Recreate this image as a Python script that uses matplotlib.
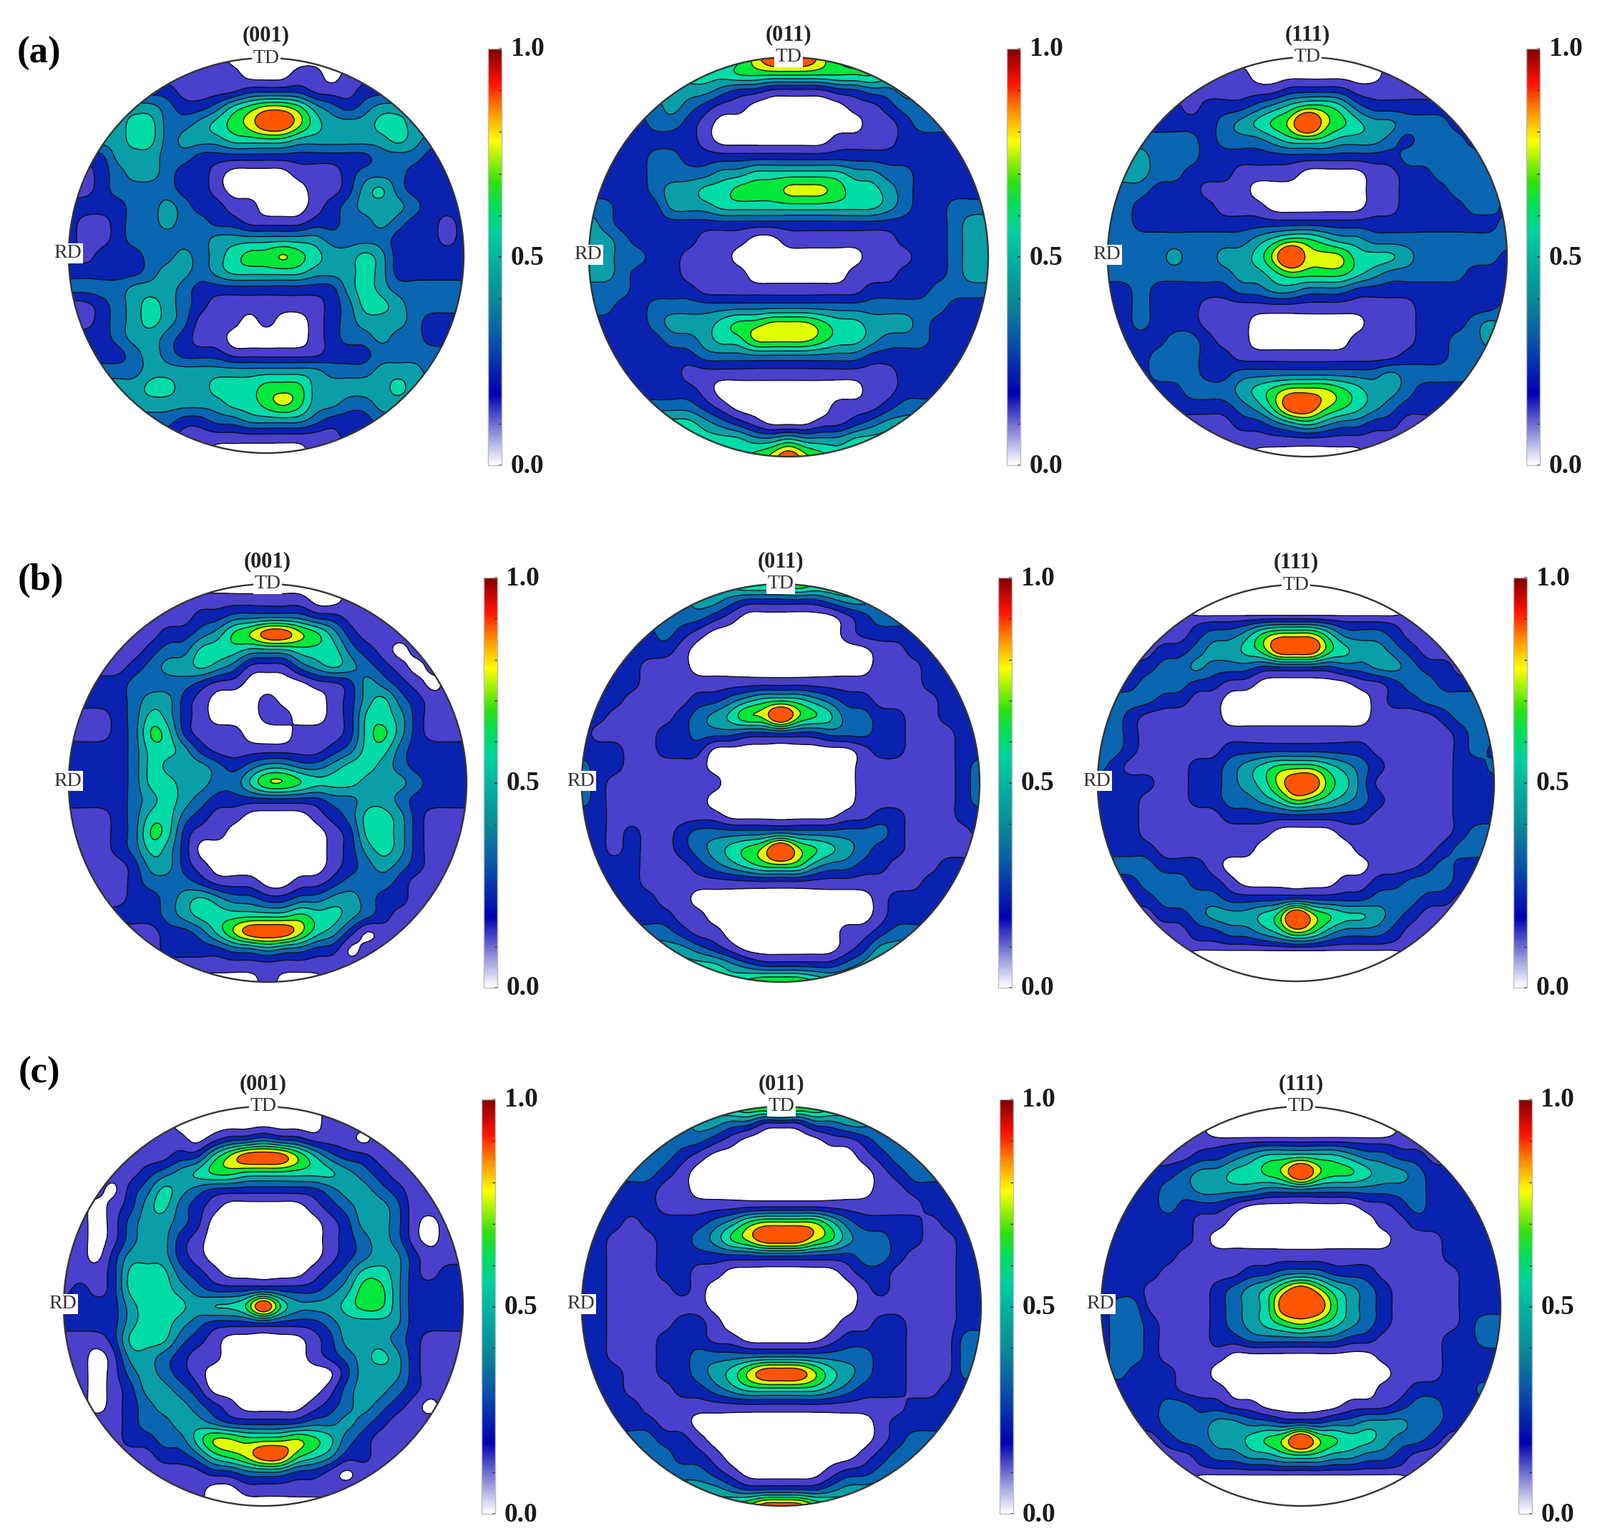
import numpy as np
import matplotlib
matplotlib.use("Agg")
import matplotlib.pyplot as plt
from matplotlib.colors import LinearSegmentedColormap, Normalize
from matplotlib.cm import ScalarMappable
from matplotlib.patches import Circle
from matplotlib.ticker import MultipleLocator
from matplotlib.transforms import ScaledTranslation

W, H = 2236, 2146
plt.rcParams['font.family'] = ['Liberation Serif', 'DejaVu Serif']

# Each figure: 25 rows x 25 columns across the disc, one digit per cell = contour band
# (z = well below the lowest band, used where a white area reaches far past a grid line)
A_001 = ["1111111111000000001111111","1111111111100011011222222","2222222111122221112222222","4444443223567764323444444","4444553345678875444554444","4444553444555544444454333","2224443322222222222333222","1123443221000011123332222","1123333221000001124532222","2222334322110001234443222","2112334332211112233432212","2112333334444444333322212","2122233434566765445422222","2222234434555554445422222","3333444322222222245433333","1123454321111111235543333","1123454311101001234443222","2223443211000001233433222","2222343222111111222333333","3333344444444444333444333","4444455445556664444454444","4444444444556764433444444","3333333223344443222333333","2222222111111111122222222","1111111110000001111111111"]
A_011 = ["4444444445788875444444444","5555555556666666665555555","4444444432211112233444444","3333343211000000112333333","2222332100000000011233333","2222222100000001111222222","2222332222222222222222222","2222333344555555443322222","2222344556667776554322222","3322244455555555554322333","4322222222222222222222344","4432222111001111111222344","4433221110000000011122344","4432221111000000111222344","3332222111111111122223333","3322333333333333333333222","2222344456677765544432222","2222233455777765543332222","2222222333333333322222222","2222221111111111111222222","2222222100000000011222222","3333333210000001112333333","5555555432100011234444444","5555555555445444555555555","5555555555678765555555555"]
A_111 = ["1111111100000000011111111","1111111110000000011111111","1111111111122221111111111","2222212223456653222222222","2222222345679765443332222","3333332333455544432333222","4443332222222222223333333","4443322211110000112233333","3332221110000000112223333","3322222111000000112222332","3322222222222222222222223","3333333334566544333333333","3333433445797775554333332","3333333344566665433333222","2232222233443332222222222","2232221111111111111222223","2232221110000000111222343","2222332110000001111223343","2223332211111111112223333","2223332233333333343333333","2222233345677765443222222","2222222234688765432222222","1111111122345433221111111","1111111111111111111111111","1111111110000000111111111"]
B_001 = ["1111111100000000011111111","1111111111111110011111111","1111111122333332211111111","1111112234678876421111111","1111123355544455532101111","1111234454311134543210111","2222333321100001124321011","2222344210001000124532111","1112354210001100125542111","1112365211100011125642111","2222355421111111235532222","2222354443234433455432222","2222355443357765554443222","2222345432222222334432222","1112355321100001235542111","1112365211000000125542111","1112354200000000124542111","1111244210000000123432111","1111233321110011233321111","1111223454332233443221111","2222223455555565543211111","1111112235788875420111111","1111112222334332201111111","1111111111111111111111111","1111111100001000111111111"]
B_011 = ["4444444445666766654444444","3333333443222223443333333","3333333321000000123333333","2222232100000000122222222","2222221000000000001122222","2222111000000000001112222","2222111111111111111112222","2221111223455543221111222","2211112345779765332211222","2111122333222223332211122","2221122200000000012211122","3221111100000000011111123","3211111110000000011111123","3211111100000000011111123","2211111110000000112211122","2212112333333333333211112","2212112345679765432211111","2222111234566643322111222","2222111111111111111112222","2222211000000000001222222","2222221100000000001222222","3333332110000000112333333","4444444321000000124444444","5555555554322222345555555","5555555555677765555555555"]
B_111 = ["1111110000000000000111111","111111zzzzzzzzzzzzz111111","1111111111111111111111111","1111112334677753332111111","1111223445688865443211111","2222334333222223344322111","2223332211000000112332222","3333221100000000012233333","3321111100000000011112333","3321111111111111111111233","3321111122222222211111232","3211112234566654321111223","2222112234578865311111222","2221112233457654321111222","2221111122222222211111222","2221111111100001111111233","2222111111000000111112333","3333222100000000011123222","2223332210000001122333222","2222333322222222233322111","1111223444569765543211111","1111112233457643332111111","1111111111111111111111111","111111zzzzzzzzzzzzz111111","1111110000000000000111111"]
C_001 = ["1111111000000000111111111","1111111000000000111111111","1111111101223221110111111","1111111225788875322111111","1111123456655555543211111","1110235432222222344321111","1101245321000001234431111","1101344320000000124431011","1101344210000000123431011","1102444210000000123442111","1112555321000001235542122","1212555432222222346642222","2222455545569644456642222","2222455432222222344442222","1112555321000001244432111","1101443211000001234542111","1101343210000000024442111","1101244320000000134432111","1101234432100001234321011","1111233443222223343211111","1111223357766676532111111","1111112235678865422111111","1111111112233322101111111","1111111110011111111111111","1111111110000000000111111"]
C_011 = ["4444444456778776544444444","3333333443311133443333333","3333333321000001123333333","3333332100000000012333333","3333321000000000001233333","2222211000000000001122222","2222211111111111111112222","2221222234677775322221222","2211122346788876433221122","2211122222222222233211122","2211122110000000122111122","2211112100000000012111122","2211111100000000011111122","2211112210000000112211122","2211122211000001222211133","2211122333333333332211133","2221122345788875432211132","2221112234555554322211222","2222111111111111111122222","2222211000000000001222222","3333322100000000001233333","3333332210000000012333333","3333333321000001223333333","4444444443222223444444444","4444444456788876544444444"]
C_111 = ["1111111000000000001111111","1111111zzzzzzzzzzz1111111","1111111111111111111111111","1111112234555554332211111","2222234455679766544322111","2222334444333333333322222","2222322210000000112322222","2222221100000000011222222","2222221000000000001112222","2222211111111111111112222","2222111112233322211111222","2221111234578754321111222","2331111234588864321111222","2332111234567654321111233","2332111223333332211112233","2332111100000000011112222","2322211000000000001112222","2222211100000000011222232","2222332211000001112332222","2222333443322233444332222","1111233445679765543321111","1111112334455544332111111","1111111111111111111111111","111111zzzzzzzzzzzzz111111","1111110000000000000111111"]

PANEL_ROWS = [[A_001, A_011, A_111], [B_001, B_011, B_111], [C_001, C_011, C_111]]
POLES = ["(001)", "(011)", "(111)"]
ROW_LABELS = ["(a)", "(b)", "(c)"]
BAR_TICKS = [0.0, 0.5, 1.0]
BAND_COLORS = ["#ffffff", "#4a40cc", "#0a22b0", "#0a66b0", "#0a9fa8",
               "#00dca8", "#00e83c", "#e0ff00", "#ff5500"]
BAR_STOPS = [(0.0, "#ffffff"), (0.1, "#6a6ad0"), (0.17, "#0000b0"), (0.3, "#0a55a8"),
             (0.4, "#0a8c96"), (0.5, "#00b4a0"), (0.56, "#00d0a0"), (0.62, "#00dd60"),
             (0.68, "#30e010"), (0.78, "#ffff00"), (0.85, "#ff9000"), (0.92, "#ff1000"),
             (1.0, "#800000")]
BAR_CMAP = LinearSegmentedColormap.from_list("pf", BAR_STOPS)
CELL_VALUE = {"z": -2, "8": 9, "9": 10.5}

# geometry in pixels
CX = [[372, 1102, 1827], [374, 1091, 1811], [368, 1092, 1818]]
CY = [[357, 359, 359], [1094, 1094, 1094], [1825, 1825, 1825]]
RAD = [[276, 279, 279], [278, 278, 277], [279, 279, 279]]
BAR_X = [[682, 1407, 2133], [676, 1395, 2115], [673, 1397, 2122]]
BAR_Y = [(68, 650), (807, 1380), (1536, 2115)]
LABEL_XY = [(54, 75), (57, 811), (55, 1500)]


def cubic_axis(z, f):
    m = z.shape[0]
    t = np.linspace(0, m - 1, (m - 1) * f + 1)
    i = np.clip(t.astype(int), 0, m - 2)
    u = (t - i)[:, None]
    p0, p1 = z[np.clip(i - 1, 0, m - 1)], z[i]
    p2, p3 = z[i + 1], z[np.clip(i + 2, 0, m - 1)]
    return p1 + 0.5 * u * (p2 - p0 + u * (2 * p0 - 5 * p1 + 4 * p2 - p3 + u * (3 * (p1 - p2) + p3 - p0)))


def soften_axis(z, sigma):
    k = np.exp(-0.5 * (np.arange(-9, 10) / sigma) ** 2)
    k /= k.sum()
    pad = np.pad(z, ((9, 9), (0, 0)), mode="edge")
    return np.apply_along_axis(lambda v: np.convolve(v, k, mode="valid"), 0, pad)


def refine(rows, f=10, sigma=3.0):
    z = np.array([[CELL_VALUE.get(c, int(c) if c.isdigit() else 0) for c in r.ljust(25, r[-1])[:25]]
                  for r in rows], float)
    z = cubic_axis(cubic_axis(z, f).T, f).T
    return soften_axis(soften_axis(z, sigma).T, sigma).T


def fx(x):
    return x / W


def fy(y):
    return 1 - y / H


fig = plt.figure(figsize=(W / 100, H / 100), dpi=100, facecolor="white")
levels = [-99] + [k + 0.5 for k in range(8)] + [99]
lift = ScaledTranslation(0, 3 / 100, fig.dpi_scale_trans)

for r in range(3):
    fig.text(fx(LABEL_XY[r][0]), fy(LABEL_XY[r][1]), ROW_LABELS[r], fontsize=38,
             fontweight="bold", ha="center", va="center")
    for c in range(3):
        cx, cy, rad = CX[r][c], CY[r][c], RAD[r][c]
        ax = fig.add_axes([fx(cx - rad), fy(cy + rad), 2 * rad / W, 2 * rad / H])
        ax.set_xlim(-1, 1)
        ax.set_ylim(1, -1)
        ax.axis("off")
        z = refine(PANEL_ROWS[r][c])
        g = np.linspace(-1, 1, z.shape[0])
        circle = Circle((0, 0), 1, transform=ax.transData, fill=False,
                        edgecolor="#333333", linewidth=1.7, clip_on=False, zorder=5)
        ax.add_patch(circle)
        cf = ax.contourf(g, g, z, levels=levels, colors=BAND_COLORS)
        cl = ax.contour(g, g, z, levels=levels[1:-1], colors="#10101a", linewidths=1.0)
        cf.set_clip_path(circle)
        cl.set_clip_path(circle)

        fig.text(fx(cx), fy(cy - rad - 31), POLES[c], fontsize=22, fontweight="bold",
                 ha="center", va="center", color="#222222")
        box = dict(facecolor="white", edgecolor="none", pad=1.5)
        fig.text(fx(cx), fy(cy - rad), "TD", fontsize=20, ha="center", va="center",
                 color="#333333", bbox=box, zorder=6)
        fig.text(fx(cx - rad - 1), fy(cy - 3), "RD", fontsize=20, ha="center", va="center",
                 color="#333333", bbox=box, zorder=6)

        top, bot = BAR_Y[r]
        cax = fig.add_axes([fx(BAR_X[r][c]), fy(bot), 19 / W, (bot - top) / H])
        cb = fig.colorbar(ScalarMappable(Normalize(0, 1), BAR_CMAP), cax=cax, ticks=BAR_TICKS)
        cb.ax.set_yticklabels([f"{t:.1f}" for t in BAR_TICKS], fontsize=27, fontweight="bold",
                              color="#1a1a1a")
        cb.ax.yaxis.set_minor_locator(MultipleLocator(0.1))
        cb.ax.tick_params(axis="y", which="major", direction="in", length=3, width=1.2,
                          pad=9, color="#333333")
        cb.ax.tick_params(axis="y", which="minor", direction="in", length=3, width=1.0,
                          color="#333333")
        for lab in cb.ax.get_yticklabels():
            lab.set_transform(lab.get_transform() + lift)
        cb.outline.set_edgecolor("#bbbbbb")
        cb.outline.set_linewidth(1.0)

fig.savefig("out.png", dpi=100, facecolor="white")
